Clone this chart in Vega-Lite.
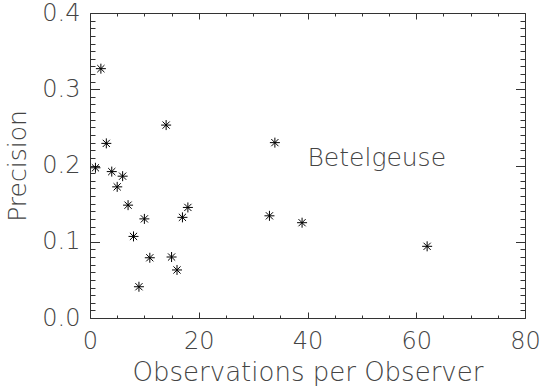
{
  "$schema": "https://vega.github.io/schema/vega-lite/v6.json",
  "width": 435,
  "height": 305,
  "autosize": "none",
  "padding": {"left": 90, "top": 13, "right": 18, "bottom": 70},
  "background": "white",
  "config": {
    "view": {"stroke": "#333", "strokeWidth": 1},
    "axis": {
      "grid": false,
      "domain": false,
      "tickColor": "#333",
      "tickWidth": 1,
      "labelFont": "DejaVu Sans",
      "labelFontWeight": 200,
      "labelFontSize": 24,
      "labelColor": "#444",
      "titleFont": "DejaVu Sans",
      "titleFontWeight": 200,
      "titleFontSize": 26,
      "titleColor": "#444",
      "labelFlush": false,
      "labelOverlap": false
    }
  },
  "datasets": {
    "pts": [
      {"obs": 1, "precision": 0.197},
      {"obs": 2, "precision": 0.327},
      {"obs": 3, "precision": 0.229},
      {"obs": 4, "precision": 0.192},
      {"obs": 5, "precision": 0.172},
      {"obs": 6, "precision": 0.186},
      {"obs": 7, "precision": 0.148},
      {"obs": 8, "precision": 0.107},
      {"obs": 9, "precision": 0.041},
      {"obs": 10, "precision": 0.130},
      {"obs": 11, "precision": 0.079},
      {"obs": 14, "precision": 0.253},
      {"obs": 15, "precision": 0.080},
      {"obs": 16, "precision": 0.063},
      {"obs": 17, "precision": 0.132},
      {"obs": 18, "precision": 0.145},
      {"obs": 33, "precision": 0.134},
      {"obs": 34, "precision": 0.230},
      {"obs": 39, "precision": 0.125},
      {"obs": 62, "precision": 0.094}
    ],
    "label": [
      {"obs": 40, "precision": 0.2, "text": "Betelgeuse"}
    ]
  },
  "layer": [
    {
      "data": {"name": "pts"},
      "mark": {
        "type": "point",
        "shape": "M0,-1L0,1M-1,0L1,0M-0.72,-0.72L0.72,0.72M-0.72,0.72L0.72,-0.72",
        "size": 100,
        "filled": false,
        "stroke": "#000",
        "strokeWidth": 1,
        "opacity": 1
      },
      "encoding": {
        "x": {
          "field": "obs", "type": "quantitative",
          "scale": {"domain": [0, 80], "nice": false, "zero": false},
          "axis": {
            "orient": "bottom",
            "values": [0, 20, 40, 60, 80],
            "tickSize": -6,
            "labelPadding": 17,
            "title": "Observations per Observer",
            "titlePadding": 6
          }
        },
        "y": {
          "field": "precision", "type": "quantitative",
          "scale": {"domain": [0, 0.4], "nice": false, "zero": false},
          "axis": {
            "orient": "left",
            "values": [0, 0.1, 0.2, 0.3, 0.4],
            "format": ".1f",
            "tickSize": -9.5,
            "labelPadding": 19.5,
            "title": "Precision",
            "titleFontSize": 25,
            "titlePadding": 11
          }
        }
      }
    },
    {
      "data": {"name": "pts"},
      "mark": {"type": "point", "opacity": 0},
      "encoding": {
        "x": {
          "field": "obs", "type": "quantitative",
          "axis": {
            "orient": "bottom",
            "values": [5, 10, 15, 25, 30, 35, 45, 50, 55, 65, 70, 75],
            "tickSize": -3,
            "labels": false,
            "title": null
          }
        },
        "y": {
          "field": "precision", "type": "quantitative",
          "axis": {
            "orient": "left",
            "values": [0.01, 0.02, 0.03, 0.04, 0.05, 0.06, 0.07, 0.08, 0.09, 0.11, 0.12, 0.13, 0.14, 0.15, 0.16, 0.17, 0.18, 0.19, 0.21, 0.22, 0.23, 0.24, 0.25, 0.26, 0.27, 0.28, 0.29, 0.31, 0.32, 0.33, 0.34, 0.35, 0.36, 0.37, 0.38, 0.39],
            "tickSize": -5,
            "labels": false,
            "title": null
          }
        }
      }
    },
    {
      "data": {"name": "pts"},
      "mark": {"type": "point", "opacity": 0},
      "encoding": {
        "x": {
          "field": "obs", "type": "quantitative",
          "axis": {
            "orient": "top",
            "values": [0, 20, 40, 60, 80],
            "tickSize": -6,
            "labels": false,
            "title": null
          }
        },
        "y": {
          "field": "precision", "type": "quantitative",
          "axis": {
            "orient": "right",
            "values": [0, 0.1, 0.2, 0.3, 0.4],
            "tickSize": -9.5,
            "labels": false,
            "title": null
          }
        }
      }
    },
    {
      "data": {"name": "label"},
      "mark": {
        "type": "text",
        "align": "left",
        "baseline": "alphabetic",
        "font": "DejaVu Sans",
        "fontWeight": 200,
        "fontSize": 25,
        "color": "#444"
      },
      "encoding": {
        "text": {"field": "text"},
        "x": {
          "field": "obs", "type": "quantitative",
          "axis": {
            "orient": "top",
            "values": [5, 10, 15, 25, 30, 35, 45, 50, 55, 65, 70, 75],
            "tickSize": -3,
            "labels": false,
            "title": null
          }
        },
        "y": {
          "field": "precision", "type": "quantitative",
          "axis": {
            "orient": "right",
            "values": [0.01, 0.02, 0.03, 0.04, 0.05, 0.06, 0.07, 0.08, 0.09, 0.11, 0.12, 0.13, 0.14, 0.15, 0.16, 0.17, 0.18, 0.19, 0.21, 0.22, 0.23, 0.24, 0.25, 0.26, 0.27, 0.28, 0.29, 0.31, 0.32, 0.33, 0.34, 0.35, 0.36, 0.37, 0.38, 0.39],
            "tickSize": -5,
            "labels": false,
            "title": null
          }
        }
      }
    }
  ],
  "resolve": {"axis": {"x": "independent", "y": "independent"}}
}
